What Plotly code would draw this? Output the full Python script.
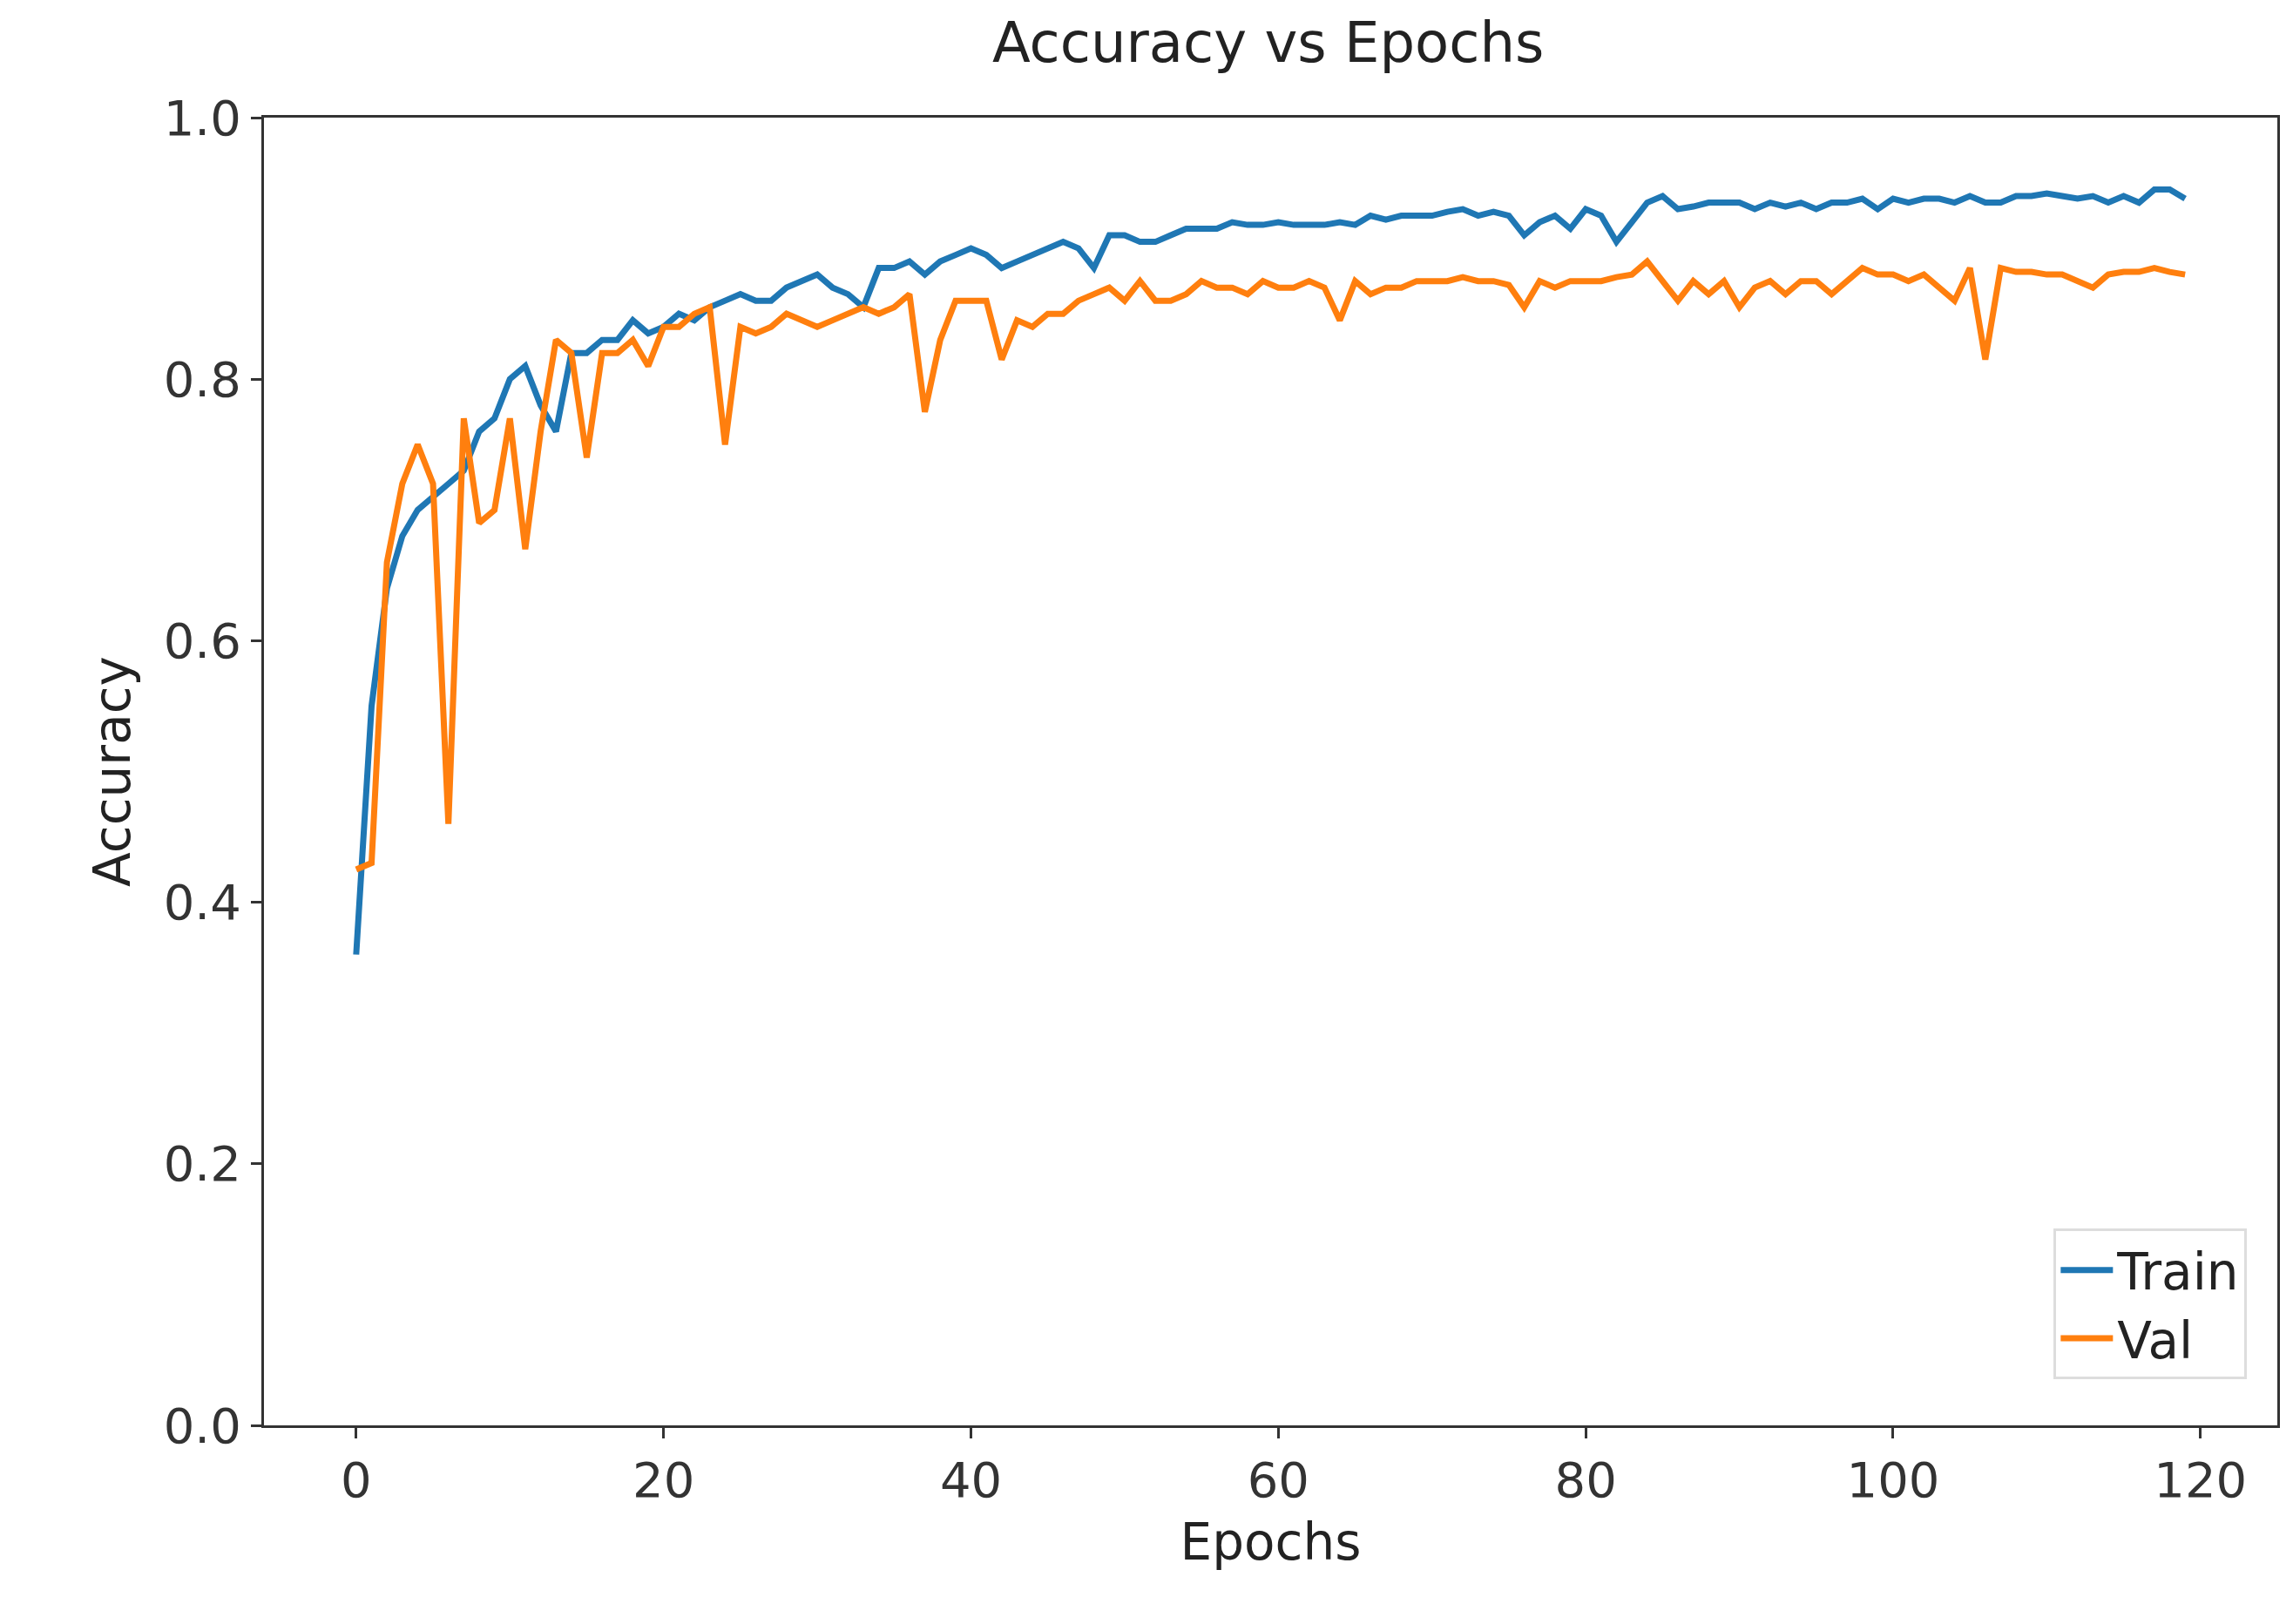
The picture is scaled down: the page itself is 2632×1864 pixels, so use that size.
import plotly.graph_objects as go

epochs = list(range(120))

train_acc = [
    0.36, 0.55, 0.64, 0.68, 0.70, 0.71, 0.72, 0.73, 0.76, 0.77,
    0.80, 0.81, 0.78, 0.76, 0.82, 0.82, 0.83, 0.83, 0.845, 0.835,
    0.84, 0.85, 0.845, 0.855, 0.86, 0.865, 0.86, 0.86, 0.87, 0.875,
    0.88, 0.87, 0.865, 0.855, 0.885, 0.885, 0.89, 0.88, 0.89, 0.895,
    0.90, 0.895, 0.885, 0.89, 0.895, 0.90, 0.905, 0.90, 0.885, 0.91,
    0.91, 0.905, 0.905, 0.91, 0.915, 0.915, 0.915, 0.92, 0.918, 0.918,
    0.92, 0.918, 0.918, 0.918, 0.92, 0.918, 0.925, 0.922, 0.925, 0.925,
    0.925, 0.928, 0.93, 0.925, 0.928, 0.925, 0.91, 0.92, 0.925, 0.915,
    0.93, 0.925, 0.905, 0.92, 0.935, 0.94, 0.93, 0.932, 0.935, 0.935,
    0.935, 0.93, 0.935, 0.932, 0.935, 0.93, 0.935, 0.935, 0.938, 0.93,
    0.938, 0.935, 0.938, 0.938, 0.935, 0.94, 0.935, 0.935, 0.94, 0.94,
    0.942, 0.94, 0.938, 0.94, 0.935, 0.94, 0.935, 0.945, 0.945, 0.938,
]

val_acc = [
    0.425, 0.43, 0.66, 0.72, 0.75, 0.72, 0.46, 0.77, 0.69, 0.70,
    0.77, 0.67, 0.76, 0.83, 0.82, 0.74, 0.82, 0.82, 0.83, 0.81,
    0.84, 0.84, 0.85, 0.855, 0.75, 0.84, 0.835, 0.84, 0.85, 0.845,
    0.84, 0.845, 0.85, 0.855, 0.85, 0.855, 0.865, 0.775, 0.83, 0.86,
    0.86, 0.86, 0.815, 0.845, 0.84, 0.85, 0.85, 0.86, 0.865, 0.87,
    0.86, 0.875, 0.86, 0.86, 0.865, 0.875, 0.87, 0.87, 0.865, 0.875,
    0.87, 0.87, 0.875, 0.87, 0.845, 0.875, 0.865, 0.87, 0.87, 0.875,
    0.875, 0.875, 0.878, 0.875, 0.875, 0.872, 0.855, 0.875, 0.87, 0.875,
    0.875, 0.875, 0.878, 0.88, 0.89, 0.875, 0.86, 0.875, 0.865, 0.875,
    0.855, 0.87, 0.875, 0.865, 0.875, 0.875, 0.865, 0.875, 0.885, 0.88,
    0.88, 0.875, 0.88, 0.87, 0.86, 0.885, 0.815, 0.885, 0.882, 0.882,
    0.88, 0.88, 0.875, 0.87, 0.88, 0.882, 0.882, 0.885, 0.882, 0.88,
]

fig = go.Figure()
fig.add_trace(go.Scatter(x=epochs, y=train_acc, mode="lines", name="Train",
                         line=dict(color="#1f77b4", width=7)))
fig.add_trace(go.Scatter(x=epochs, y=val_acc, mode="lines", name="Val",
                         line=dict(color="#ff7f0e", width=7)))

axis_style = dict(
    showgrid=False, zeroline=False, showline=True, linecolor="#333333", linewidth=3,
    mirror=True, ticks="outside", ticklen=12, tickwidth=3, tickcolor="#333333",
    tickfont=dict(size=56, color="#333333"),
)

fig.update_layout(
    width=2632, height=1864,
    plot_bgcolor="white", paper_bgcolor="white",
    font_family="DejaVu Sans",
    margin=dict(l=295, r=26, t=127, b=236),
    title=dict(text="Accuracy vs Epochs", x=0.55, xanchor="center", y=0.99, yanchor="top",
               font=dict(size=64, color="#222222")),
    xaxis=dict(range=[-6, 125], tickvals=[0, 20, 40, 60, 80, 100, 120],
               title=dict(text="Epochs", font=dict(size=58, color="#222222"), standoff=20),
               **axis_style),
    yaxis=dict(range=[0, 1], tickvals=[0, 0.2, 0.4, 0.6, 0.8, 1.0], tickformat=".1f",
               title=dict(text="Accuracy", font=dict(size=58, color="#222222"), standoff=20),
               **axis_style),
    legend=dict(x=0.985, y=0.035, xanchor="right", yanchor="bottom",
                bgcolor="white", bordercolor="#dddddd", borderwidth=3,
                itemwidth=60, font=dict(size=58, color="#222222")),
)

fig.write_html("out.html")
